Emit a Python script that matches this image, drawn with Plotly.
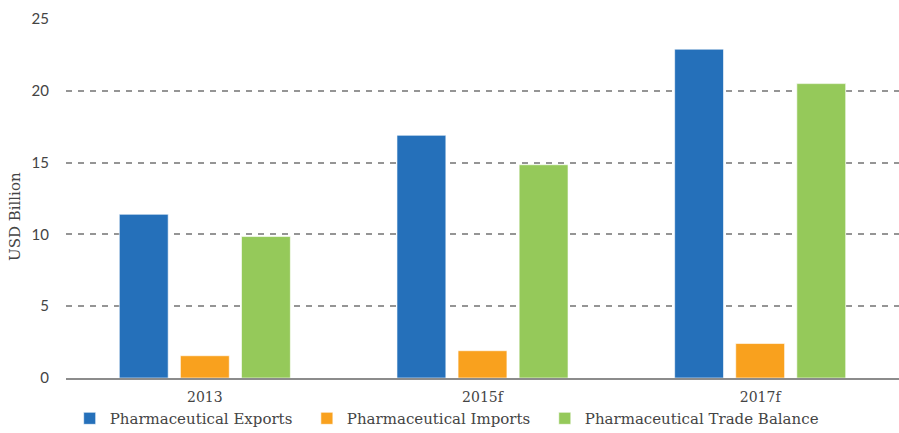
import plotly.graph_objects as go

years = ["2013", "2015f", "2017f"]
exports = [11.4, 16.9, 22.9]
imports = [1.55, 1.9, 2.4]
trade_balance = [9.85, 14.85, 20.5]

# two non-breaking spaces after the first labels widen the legend gaps
pad = "\u00a0\u00a0"
series = [
    ("Pharmaceutical Exports" + pad, exports, "#2570BA"),
    ("Pharmaceutical Imports" + pad, imports, "#F9A11E"),
    ("Pharmaceutical Trade Balance", trade_balance, "#95C95A"),
]

fig = go.Figure()
for name, vals, color in series:
    fig.add_trace(go.Bar(
        x=years, y=vals, name=name,
        marker=dict(color=color, line=dict(color="rgba(255,255,255,0.6)", width=1)),
    ))

serif = "DejaVu Serif, serif"
fig.update_layout(
    width=899, height=433,
    margin=dict(l=66, r=0, t=19, b=55, autoexpand=False),
    paper_bgcolor="white", plot_bgcolor="white",
    barmode="group", bargap=0.34, bargroupgap=0.2,
    showlegend=True,
    legend=dict(
        orientation="h", x=0.457, xanchor="center", y=-0.113, yanchor="middle",
        font=dict(family=serif, size=15, color="#444"),
        itemwidth=30, tracegroupgap=0,
    ),
    xaxis=dict(
        showline=True, linecolor="#8c8c8c", linewidth=2,
        showgrid=False, ticks="", ticklabelstandoff=5,
        tickfont=dict(family=serif, size=14, color="#444"),
    ),
    yaxis=dict(
        range=[0, 25], dtick=5, showline=False,
        showgrid=True, gridcolor="#959595", gridwidth=1.5, griddash="6px,6px",
        zeroline=False, ticks="", ticklabelstandoff=16,
        tickfont=dict(family="Lato, sans-serif", size=15, color="#444"),
    ),
    annotations=[dict(
        text="USD Billion", textangle=-90, showarrow=False,
        xref="paper", yref="paper", x=-0.0612, y=0.4485,
        xanchor="center", yanchor="middle",
        font=dict(family=serif, size=15, color="#444"),
    )],
)

fig.write_html("out.html")
